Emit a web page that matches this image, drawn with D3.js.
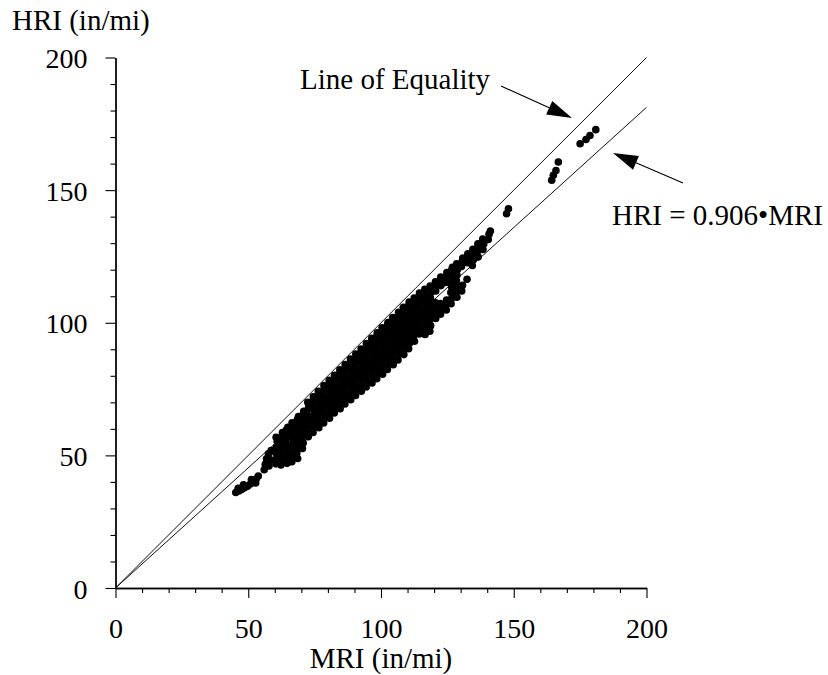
<!DOCTYPE html>
<html>
<head>
<meta charset="utf-8">
<script src="https://cdn.jsdelivr.net/npm/d3@7"></script>
<style>
  body { margin: 0; background: #fff; }
  svg { display: block; }
  text { font-family: "Liberation Serif", "Times New Roman", serif; fill: #000; }
</style>
</head>
<body>
<svg id="chart" width="828" height="675"></svg>
<script>
// Axis ticks (in/mi)
const majorTicks = [0, 50, 100, 150, 200];
const minorTicks = [10, 20, 30, 40, 60, 70, 80, 90, 110, 120, 130, 140, 160, 170, 180, 190];

// Regression through the origin: HRI = 0.906 * MRI
const slope = 0.906;

// Paired section readings: [MRI, HRI] in in/mi
const readings = [
  [45.3,36.0],[46.4,36.6],[47.5,37.1],[48.6,37.8],[49.7,38.4],[50.8,39.2],[51.9,40.0],[53.0,41.1],[53.8,42.2],[46.2,37.6],[48.2,38.9],[51.2,40.9],[52.8,39.6],
  [56.0,44.6],[56.4,46.6],[56.9,48.7],[57.6,50.6],[58.6,51.8],[57.8,46.0],[58.3,48.3],
  [60.4,46.8],[60.7,48.9],[60.3,51.0],[60.6,53.1],[60.9,55.2],[60.5,56.8],
  [62.3,46.4],[62.6,48.5],[62.8,50.6],[62.4,52.7],[62.7,54.8],[62.5,56.9],[62.9,58.6],
  [64.6,47.0],[64.3,49.1],[64.7,51.2],[64.5,53.3],[64.2,55.4],[64.8,57.5],[64.4,59.6],[64.9,60.6],
  [66.4,47.6],[66.7,49.7],[66.3,51.8],[66.6,53.9],[66.8,56.0],[66.4,58.1],[66.7,60.2],[66.5,62.3],
  [68.6,48.8],[68.3,50.9],[68.7,53.0],[68.4,55.1],[68.6,57.2],[68.8,59.3],[68.3,61.4],[68.5,63.5],[68.9,64.6],
  [70.4,52.6],[70.7,54.7],[70.3,56.8],[70.6,58.9],[70.8,61.0],[70.4,63.1],[70.6,65.2],[70.9,66.6],
  [72.6,57.0],[72.3,59.1],[72.7,61.2],[72.5,63.3],[72.2,65.4],[72.6,67.5],[72.8,68.9],[72.4,70.0],
  [74.4,58.6],[74.7,60.7],[74.3,62.8],[74.6,64.9],[74.8,67.0],[74.4,69.1],[74.6,70.9],[74.5,72.1],
  [76.6,60.4],[76.3,62.5],[76.7,64.6],[76.4,66.7],[76.6,68.8],[76.8,70.9],[76.5,73.0],[76.4,74.2],
  [78.4,62.2],[78.7,64.3],[78.3,66.4],[78.6,68.5],[78.8,70.6],[78.4,72.7],[78.6,74.8],[78.9,75.6],[78.5,76.3],
  [80.6,64.0],[80.3,66.1],[80.7,68.2],[80.4,70.3],[80.6,72.4],[80.8,74.5],[80.4,76.6],[80.7,77.7],[80.5,78.3],
  [82.4,66.0],[82.7,68.1],[82.3,70.2],[82.6,72.3],[82.8,74.4],[82.4,76.5],[82.6,78.6],[82.9,79.5],[82.5,80.2],
  [84.6,67.6],[84.3,69.7],[84.7,71.8],[84.4,73.9],[84.6,76.0],[84.8,78.1],[84.4,80.2],[84.7,81.6],[84.5,82.3],
  [86.4,69.4],[86.7,71.5],[86.3,73.6],[86.6,75.7],[86.8,77.8],[86.4,79.9],[86.6,82.0],[86.9,83.6],[86.5,84.2],
  [88.6,71.0],[88.3,73.1],[88.7,75.2],[88.4,77.3],[88.6,79.4],[88.8,81.5],[88.4,83.6],[88.7,85.4],[88.5,86.3],
  [90.4,72.6],[90.7,74.7],[90.3,76.8],[90.6,78.9],[90.8,81.0],[90.4,83.1],[90.6,85.2],[90.9,87.2],[90.5,88.2],
  [92.6,74.2],[92.3,76.3],[92.7,78.4],[92.4,80.5],[92.6,82.6],[92.8,84.7],[92.4,86.8],[92.7,88.9],[92.5,90.1],
  [94.4,75.8],[94.7,77.9],[94.3,80.0],[94.6,82.1],[94.8,84.2],[94.4,86.3],[94.6,88.4],[94.9,90.5],[94.5,92.2],
  [96.6,77.3],[96.3,79.4],[96.7,81.5],[96.4,83.6],[96.6,85.7],[96.8,87.8],[96.4,89.9],[96.7,92.0],[96.9,93.0],[96.5,94.1],
  [98.4,78.9],[98.7,81.0],[98.3,83.1],[98.6,85.2],[98.8,87.3],[98.4,89.4],[98.6,91.5],[98.9,93.6],[98.5,95.0],[98.6,96.2],
  [100.6,80.6],[100.3,82.7],[100.7,84.8],[100.4,86.9],[100.6,89.0],[100.8,91.1],[100.4,93.2],[100.7,95.3],[100.5,97.0],[100.4,98.1],
  [102.4,82.4],[102.7,84.5],[102.3,86.6],[102.6,88.7],[102.8,90.8],[102.4,92.9],[102.6,95.0],[102.9,97.1],[102.5,99.0],[102.6,100.1],
  [104.6,84.2],[104.3,86.3],[104.7,88.4],[104.4,90.5],[104.6,92.6],[104.8,94.7],[104.4,96.8],[104.7,98.9],[104.5,100.8],[104.4,102.0],
  [106.4,86.0],[106.7,88.1],[106.3,90.2],[106.6,92.3],[106.8,94.4],[106.4,96.5],[106.6,98.6],[106.9,100.7],[106.5,102.6],[106.6,103.9],
  [108.6,88.0],[108.3,90.1],[108.7,92.2],[108.4,94.3],[108.6,96.4],[108.8,98.5],[108.4,100.6],[108.7,102.7],[108.5,104.6],[108.4,105.8],
  [110.4,90.2],[110.7,92.3],[110.3,94.4],[110.6,96.5],[110.8,98.6],[110.4,100.7],[110.6,102.8],[110.9,104.9],[110.5,106.6],[110.6,107.8],
  [112.6,93.0],[112.3,95.1],[112.7,97.2],[112.4,99.3],[112.6,101.4],[112.8,103.5],[112.4,105.6],[112.7,107.7],[112.5,109.3],
  [114.4,95.8],[114.7,97.9],[114.3,100.0],[114.6,102.1],[114.8,104.2],[114.4,106.3],[114.6,108.4],[114.9,110.5],[114.5,111.2],
  [116.6,95.6],[116.3,97.7],[116.7,99.8],[116.4,101.9],[116.6,104.0],[116.8,106.1],[116.4,108.2],[116.7,110.3],[116.5,112.6],
  [118.4,96.8],[118.7,98.9],[118.3,101.0],[118.6,103.1],[118.8,105.2],[118.4,107.3],[118.6,109.4],[118.9,111.5],[118.5,113.8],
  [120.6,101.6],[120.3,103.7],[120.7,105.8],[120.4,107.6],[120.6,112.0],[120.8,114.1],[120.5,115.4],
  [122.4,103.2],[122.7,105.3],[122.3,107.2],[122.6,114.0],[122.8,116.1],[122.5,117.2],
  [124.6,104.8],[124.3,106.9],[124.7,108.6],[124.4,115.2],[124.6,117.3],[124.8,118.9],
  [126.4,107.2],[126.7,109.3],[126.3,111.4],[126.6,113.5],[126.8,115.6],[126.4,117.7],[126.6,119.8],[126.9,120.9],
  [128.6,109.6],[128.3,111.7],[128.7,113.8],[128.4,115.9],[128.6,118.0],[128.8,120.1],[128.5,122.2],
  [130.4,112.0],[130.7,114.1],[130.3,121.2],[130.6,123.3],[130.8,124.4],
  [132.4,116.4],[132.6,122.6],[132.3,124.7],[132.7,126.0],
  [134.4,121.6],[134.7,123.7],[134.3,125.8],[134.6,127.7],
  [136.6,124.8],[136.3,126.9],[136.7,129.0],[136.5,129.8],
  [138.4,127.6],[138.7,129.7],[138.3,131.6],
  [140.4,131.4],[140.7,133.4],[141.2,134.6],
  [147.3,141.1],[148.0,143.0],
  [164.3,153.7],[164.9,155.6],[165.9,157.4],[166.8,160.6],
  [175.0,167.5],[177.2,169.1],[178.7,170.6],[180.9,172.8]
];

const svg = d3.select("#chart");
svg.append("rect").attr("width", 828).attr("height", 675).attr("fill", "#fff");

const x = d3.scaleLinear().domain([0, 200]).range([115.5, 646.5]);
const y = d3.scaleLinear().domain([0, 200]).range([588, 57.5]);

const TICK_FONT = 28;
const LABEL_FONT = 29;

function styleAxis(g) {
  g.select(".domain").attr("stroke", "#000").attr("stroke-width", 1.3);
  g.selectAll(".tick line").attr("stroke", "#000").attr("stroke-width", 1.1);
}

// Minor ticks first, then major ticks with labels
svg.append("g")
  .attr("transform", `translate(0,${y(0)})`)
  .call(d3.axisBottom(x).tickValues(minorTicks).tickSize(5).tickSizeOuter(0).tickFormat(""))
  .call(styleAxis);
const gx = svg.append("g")
  .attr("transform", `translate(0,${y(0)})`)
  .call(d3.axisBottom(x).tickValues(majorTicks).tickSize(10).tickSizeOuter(0).tickFormat(d3.format("d")))
  .call(styleAxis);
gx.selectAll(".tick text").attr("font-size", TICK_FONT).attr("font-family", null).attr("fill", "#000")
  .attr("y", 50).attr("dy", null);

svg.append("g")
  .attr("transform", `translate(${x(0)},0)`)
  .call(d3.axisLeft(y).tickValues(minorTicks).tickSize(5).tickSizeOuter(0).tickFormat(""))
  .call(styleAxis);
const gy = svg.append("g")
  .attr("transform", `translate(${x(0)},0)`)
  .call(d3.axisLeft(y).tickValues(majorTicks).tickSize(10).tickSizeOuter(0).tickFormat(d3.format("d")))
  .call(styleAxis);
gy.selectAll(".tick text").attr("font-size", TICK_FONT).attr("font-family", null).attr("fill", "#000")
  .attr("x", -28).attr("dy", 10);

// Axis titles
svg.append("text").attr("x", 12).attr("y", 30).attr("font-size", LABEL_FONT).text("HRI (in/mi)");
svg.append("text").attr("x", (x(0) + x(200)) / 2).attr("y", 668).attr("text-anchor", "middle")
  .attr("font-size", LABEL_FONT).text("MRI (in/mi)");

// Reference lines
const line = d3.line().x(d => x(d[0])).y(d => y(d[1]));
svg.append("path").datum([[0, 0], [200, 200]]).attr("d", line)
  .attr("fill", "none").attr("stroke", "#111").attr("stroke-width", 1);
svg.append("path").datum([[0, 0], [200, 200 * slope]]).attr("d", line)
  .attr("fill", "none").attr("stroke", "#111").attr("stroke-width", 1);

// Points
svg.append("g").selectAll("circle").data(readings).join("circle")
  .attr("cx", d => x(d[0])).attr("cy", d => y(d[1])).attr("r", 3.8).attr("fill", "#000");

// Annotations with arrows
function arrow(x1, y1, x2, y2) {
  const ang = Math.atan2(y2 - y1, x2 - x1);
  const len = 25, half = 7.5;
  const bx = x2 - len * Math.cos(ang), by = y2 - len * Math.sin(ang);
  svg.append("line").attr("x1", x1).attr("y1", y1).attr("x2", bx).attr("y2", by)
    .attr("stroke", "#000").attr("stroke-width", 1.1);
  const px = -Math.sin(ang) * half, py = Math.cos(ang) * half;
  svg.append("path")
    .attr("d", `M${x2},${y2}L${bx + px},${by + py}L${bx - px},${by - py}Z`)
    .attr("fill", "#000");
}
svg.append("text").attr("x", 300).attr("y", 89).attr("font-size", LABEL_FONT).text("Line of Equality");
arrow(501, 86, 572, 118);
svg.append("text").attr("x", 612).attr("y", 225).attr("font-size", LABEL_FONT).text("HRI = 0.906\u2022MRI");
arrow(683, 183, 613, 153);
</script>
</body>
</html>
